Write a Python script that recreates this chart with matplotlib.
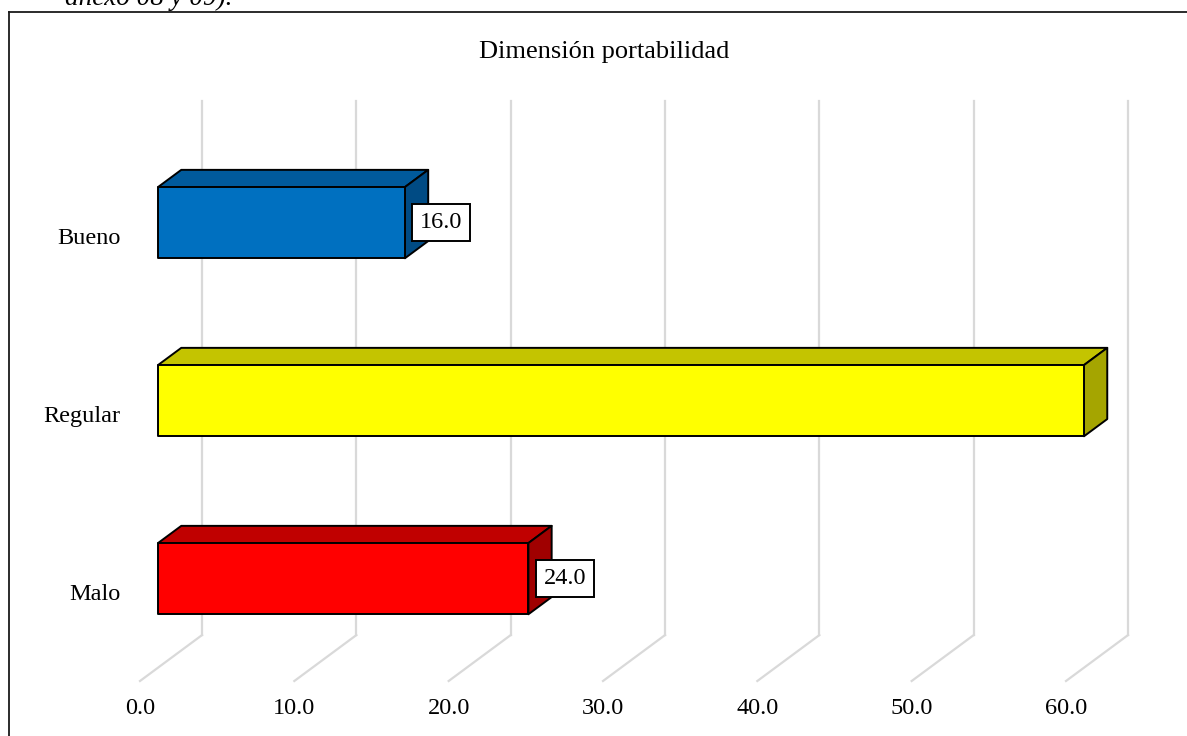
import numpy as np
import matplotlib
matplotlib.use("Agg")
import matplotlib.pyplot as plt
from matplotlib.patches import Polygon
from matplotlib.lines import Line2D

# Data
categories = ["Malo", "Regular", "Bueno"]
values = [24.0, 60.0, 16.0]
tick_values = [0, 10, 20, 30, 40, 50, 60]
tick_labels = ["0.0", "10.0", "20.0", "30.0", "40.0", "50.0", "60.0"]
title_text = "Dimensión portabilidad"
caption_text = "anexo 08 y 09)."

# Colours per bar: front, top, side
front_colors = ["#FF0000", "#FFFF00", "#0070C0"]
top_colors = ["#C00000", "#C4C400", "#005A9C"]
side_colors = ["#A00000", "#A5A500", "#004B84"]

plt.rcParams["font.family"] = ["Liberation Serif", "DejaVu Serif"]

W, H = 1187, 736
fig = plt.figure(figsize=(W / 100, H / 100), dpi=100)


def fx(px):
    return px / W


def fy(py):
    return 1 - py / H


# Front plane of the 3D box
ax = fig.add_axes([fx(140), fy(681), (1066 - 140) / W, (681 - 147) / H])
ax.set_xlim(0, 60)
ax.set_ylim(-0.5, 2.5)
ax.patch.set_visible(False)
for s in ax.spines.values():
    s.set_visible(False)

# Depth vector (full depth) in data units
DX, DY = 4.02, 0.258
D0, D1 = 0.29, 0.665      # bar front / back depth
HALF = 0.2                # half bar height

grid_color = "#D9D9D9"
y_lo, y_hi = ax.get_ylim()
for v in tick_values:
    ax.add_line(Line2D([v + DX, v + DX], [y_lo + DY, y_hi + DY],
                       color=grid_color, lw=1.6, clip_on=False, zorder=1))
    ax.add_line(Line2D([v + DX, v], [y_lo + DY, y_lo],
                       color=grid_color, lw=1.6, clip_on=False, zorder=1))

for i, (cat, val) in enumerate(zip(categories, values)):
    x0f, x1f = D0 * DX, val + D0 * DX
    x0b, x1b = D1 * DX, val + D1 * DX
    yb_f, yt_f = i - HALF + D0 * DY, i + HALF + D0 * DY
    yb_b, yt_b = i - HALF + D1 * DY, i + HALF + D1 * DY
    kw = dict(edgecolor="black", lw=1.4, joinstyle="round", clip_on=False, zorder=3)
    # top face
    ax.add_patch(Polygon([(x0f, yt_f), (x1f, yt_f), (x1b, yt_b), (x0b, yt_b)],
                         facecolor=top_colors[i], **kw))
    # side face
    ax.add_patch(Polygon([(x1f, yb_f), (x1f, yt_f), (x1b, yt_b), (x1b, yb_b)],
                         facecolor=side_colors[i], **kw))
    # front face
    ax.add_patch(Polygon([(x0f, yb_f), (x1f, yb_f), (x1f, yt_f), (x0f, yt_f)],
                         facecolor=front_colors[i], **kw))
    # value label
    ax.annotate(f"{val:.1f}", xy=(x1f, i + D0 * DY), xytext=(15, 0),
                textcoords="offset pixels", ha="left", va="center",
                fontsize=17.5, color="black", zorder=5,
                bbox=dict(boxstyle="square,pad=0.32", facecolor="white",
                          edgecolor="black", lw=1.4))

ax.set_xticks(tick_values)
ax.set_xticklabels(tick_labels, fontsize=17.5)
ax.set_yticks(range(len(categories)))
ax.set_yticklabels(categories, fontsize=17.5)
ax.tick_params(axis="x", length=0, pad=12)
ax.tick_params(axis="y", length=0, pad=14)

fig.text(fx(604), fy(58), title_text, ha="center", va="baseline", fontsize=19)
fig.text(fx(65), fy(5), caption_text, ha="left", va="baseline",
         fontsize=19.5, style="italic")

# Chart frame (top and left edges visible)
fig.add_artist(Line2D([fx(9), fx(W + 5)], [fy(12), fy(12)],
                      color="#1A1A1A", lw=1.3, transform=fig.transFigure))
fig.add_artist(Line2D([fx(9), fx(9)], [fy(12), fy(H + 5)],
                      color="#1A1A1A", lw=1.3, transform=fig.transFigure))

fig.savefig("out.png", dpi=100, facecolor="white")
